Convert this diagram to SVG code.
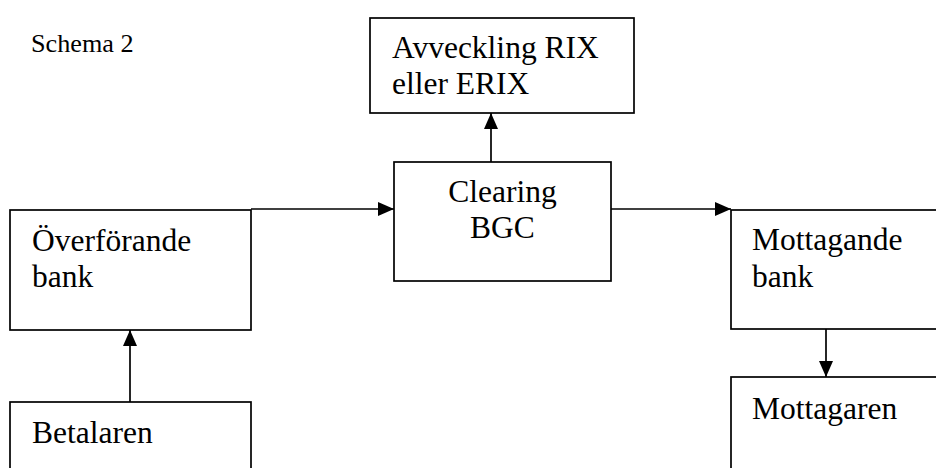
<svg xmlns="http://www.w3.org/2000/svg" width="936" height="468" viewBox="0 0 936 468">
<style>
.box{fill:#fff;stroke:#000;stroke-width:1.7}
.t{font-family:"Liberation Serif","Times New Roman",serif;font-size:31.5px;fill:#000}
.s{font-family:"Liberation Serif","Times New Roman",serif;font-size:26.2px;fill:#000}
.c{stroke:#000;stroke-width:1.7;fill:none;marker-end:url(#ah)}
</style>
<defs>
<marker id="ah" markerUnits="userSpaceOnUse" markerWidth="16" markerHeight="14" refX="16" refY="7" orient="auto">
<path d="M0,0 L16,7 L0,14 Z" fill="#000"/>
</marker>
</defs>
<rect width="936" height="468" fill="#fff"/>
<text class="s" x="31" y="52">Schema 2</text>
<g id="avveckling">
<rect class="box" x="370" y="18" width="264" height="95"/>
<text class="t" x="392" y="58">Avveckling RIX</text>
<text class="t" x="392" y="94">eller ERIX</text>
</g>
<g id="clearing">
<rect class="box" x="394" y="162" width="217" height="119"/>
<text class="t" x="502.5" y="202" text-anchor="middle">Clearing</text>
<text class="t" x="502.5" y="238" text-anchor="middle">BGC</text>
</g>
<g id="overforande">
<rect class="box" x="10" y="210" width="241" height="120"/>
<text class="t" x="32" y="251">Överförande</text>
<text class="t" x="32" y="287">bank</text>
</g>
<g id="mottagande">
<rect class="box" x="731" y="210" width="230" height="119"/>
<text class="t" x="752" y="250">Mottagande</text>
<text class="t" x="752" y="287">bank</text>
</g>
<g id="mottagaren">
<rect class="box" x="731" y="377" width="230" height="120"/>
<text class="t" x="752" y="419">Mottagaren</text>
</g>
<g id="betalaren">
<rect class="box" x="10" y="402" width="241" height="100"/>
<text class="t" x="32" y="443">Betalaren</text>
</g>
<g id="connectors">
<line class="c" x1="491" y1="162" x2="491" y2="113"/>
<line class="c" x1="251" y1="209" x2="394" y2="209"/>
<line class="c" x1="611" y1="209" x2="731" y2="209"/>
<line class="c" x1="826" y1="329" x2="826" y2="377"/>
<line class="c" x1="130" y1="402" x2="130" y2="330"/>
</g>
</svg>
